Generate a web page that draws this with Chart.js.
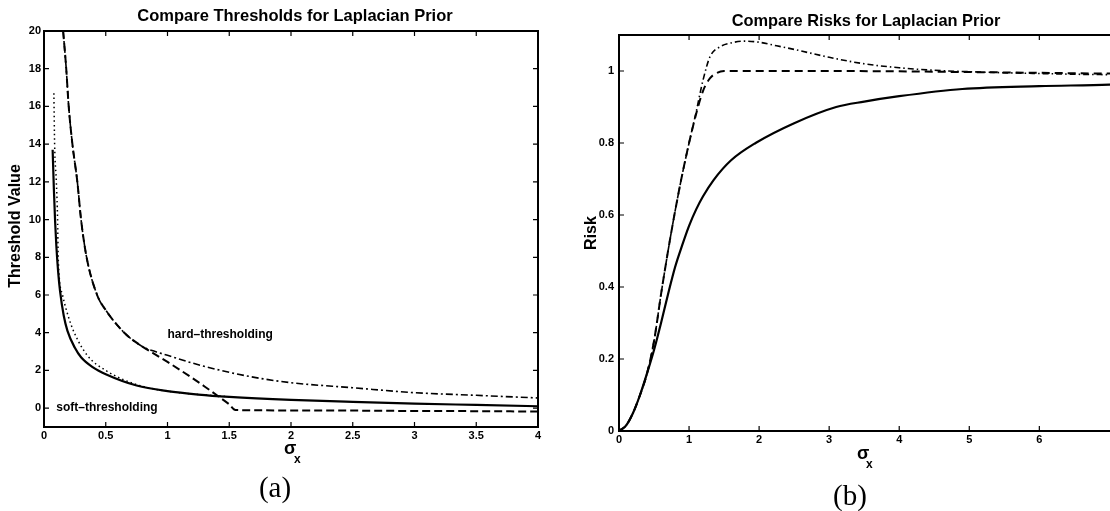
<!DOCTYPE html>
<html>
<head>
<meta charset="utf-8">
<script src="https://cdn.jsdelivr.net/npm/chart.js@4.4.1/dist/chart.umd.min.js"></script>
<style>
  html, body { margin: 0; padding: 0; background: #fff; overflow: hidden; width: 1110px; height: 511px; }
  canvas { position: absolute; top: 0; }
  #thresholdChart { left: 0; }
  #riskChart { left: 560px; }
</style>
</head>
<body>
<canvas id="thresholdChart" width="560" height="511"></canvas>
<canvas id="riskChart" width="570" height="511"></canvas>
<script>
// ---- (a) thresholds vs sigma_x ----
const thrXTicks = [0, 0.5, 1, 1.5, 2, 2.5, 3, 3.5, 4];
const thrYTicks = [0, 2, 4, 6, 8, 10, 12, 14, 16, 18, 20];

const softSigma = [0.07, 0.08, 0.09, 0.1, 0.115, 0.13, 0.16, 0.19, 0.25, 0.3, 0.4, 0.5, 0.75, 1, 1.25, 1.5, 2, 2.5, 3, 3.5, 4];
const softThr   = [13.7, 11.6, 9.9, 8.6, 7.2, 6.2, 4.9, 4.1, 3.2, 2.7, 2.15, 1.8, 1.2, 0.9, 0.72, 0.6, 0.44, 0.33, 0.24, 0.17, 0.1];

const dotSigma = [0.08, 0.086, 0.1, 0.11, 0.115, 0.15, 0.2, 0.245, 0.35, 0.5, 0.75, 1, 1.5];
const dotThr   = [16.7, 14, 12, 10, 8, 6, 4.8, 4, 2.8, 2.0, 1.25, 0.9, 0.6];

const hardSigma = [0.155, 0.18, 0.2, 0.23, 0.27, 0.3, 0.345, 0.43, 0.5, 0.65, 0.8, 0.9, 1.0, 1.1, 1.2, 1.3, 1.4, 1.5, 1.55, 2, 2.5, 3, 3.5, 4];
const hardThr   = [20, 18, 16, 14, 12, 10, 8, 6, 5.2, 4, 3.25, 2.85, 2.45, 2.03, 1.6, 1.15, 0.68, 0.2, -0.1, -0.12, -0.13, -0.15, -0.16, -0.18];

const dashDotSigma = [0.155, 0.18, 0.2, 0.23, 0.27, 0.3, 0.345, 0.43, 0.5, 0.65, 0.8, 0.9, 1.0, 1.25, 1.5, 1.75, 2, 2.5, 3, 3.5, 4];
const dashDotThr   = [20, 18, 16, 14, 12, 10, 8, 6, 5.2, 4, 3.25, 3.0, 2.8, 2.3, 1.9, 1.58, 1.35, 1.08, 0.82, 0.68, 0.54];

// ---- (b) risks vs sigma_x ----
const riskXTicks = [0, 1, 2, 3, 4, 5, 6];
const riskYTicks = [0, 0.2, 0.4, 0.6, 0.8, 1];

const riskSoftSigma = [0, 0.1, 0.2, 0.3, 0.4, 0.5, 0.6, 0.7, 0.8, 0.9, 1.0, 1.1, 1.2, 1.35, 1.6, 1.95, 2.5, 3.1, 3.5, 4, 4.9, 6, 7, 7.1];
const riskSoft      = [0, 0.015, 0.05, 0.1, 0.16, 0.225, 0.3, 0.38, 0.455, 0.515, 0.57, 0.615, 0.652, 0.697, 0.752, 0.8, 0.855, 0.9, 0.915, 0.93, 0.95, 0.958, 0.962, 0.963];

const riskHardSigma = [0, 0.1, 0.2, 0.3, 0.4, 0.5, 0.6, 0.7, 0.8, 0.9, 1.0, 1.1, 1.2, 1.3, 1.4, 1.5, 2, 3, 4, 5, 6, 7, 7.1];
const riskHard      = [0, 0.015, 0.05, 0.1, 0.16, 0.25, 0.38, 0.5, 0.61, 0.71, 0.8, 0.88, 0.945, 0.98, 0.995, 1.0, 1.0, 1.0, 0.999, 0.997, 0.995, 0.993, 0.993];

const riskDdSigma = [0, 0.1, 0.2, 0.3, 0.4, 0.5, 0.6, 0.7, 0.8, 0.9, 1.0, 1.1, 1.2, 1.3, 1.45, 1.6, 1.8, 2.0, 2.25, 2.5, 3, 3.5, 4, 4.5, 5, 6, 7, 7.1];
const riskDd      = [0, 0.015, 0.05, 0.1, 0.16, 0.25, 0.38, 0.5, 0.61, 0.71, 0.8, 0.885, 0.975, 1.04, 1.068, 1.078, 1.083, 1.08, 1.07, 1.06, 1.038, 1.02, 1.009, 1.002, 0.998, 0.993, 0.99, 0.99];

const pts = (xs, ys) => xs.map((v, i) => ({ x: v, y: ys[i] }));
const tickFont = { family: 'Liberation Sans', weight: 'bold', size: 11 };

function curve(data, dash, width) {
    return {
        data: data,
        showLine: true,
        borderColor: '#000',
        borderWidth: width,
        borderDash: dash,
        pointRadius: 0,
        fill: false,
        cubicInterpolationMode: 'monotone'
    };
}

// box, inward tick marks on all four sides, and all free text
const framePlugin = {
    id: 'frame',
    afterDatasetsDraw(chart, args, opts) {
        const { ctx, chartArea: a, scales } = chart;
        const x = scales.x, y = scales.y;
        ctx.save();
        ctx.strokeStyle = '#000';
        ctx.lineWidth = 1.2;
        ctx.beginPath();
        x.ticks.forEach(t => {
            const px = x.getPixelForValue(t.value);
            ctx.moveTo(px, a.bottom); ctx.lineTo(px, a.bottom - 5);
            ctx.moveTo(px, a.top); ctx.lineTo(px, a.top + 5);
        });
        y.ticks.forEach(t => {
            const py = y.getPixelForValue(t.value);
            ctx.moveTo(a.left, py); ctx.lineTo(a.left + 5, py);
            ctx.moveTo(a.right, py); ctx.lineTo(a.right - 5, py);
        });
        ctx.stroke();
        ctx.lineWidth = 2;
        ctx.strokeRect(a.left, a.top, a.right - a.left, a.bottom - a.top);

        ctx.fillStyle = '#000';
        (opts.texts || []).forEach(t => {
            ctx.save();
            ctx.font = t.font;
            ctx.textAlign = t.align || 'left';
            ctx.textBaseline = t.baseline || 'alphabetic';
            let px = t.x, py = t.y;
            if (t.data) {
                px = x.getPixelForValue(t.x);
                py = y.getPixelForValue(t.y);
            }
            ctx.translate(px, py);
            if (t.rotate) ctx.rotate(t.rotate);
            ctx.fillText(t.text, 0, 0);
            ctx.restore();
        });
        ctx.restore();
    }
};

function axes(xMin, xMax, xTicks, yMin, yMax, yTicks, yWidth, pad) {
    return {
        x: {
            type: 'linear', min: xMin, max: xMax,
            grid: { display: false, drawTicks: false },
            border: { display: false },
            ticks: { font: tickFont, color: '#000', padding: 2, maxRotation: 0, autoSkip: false, callback: v => String(v) },
            afterBuildTicks: s => { s.ticks = xTicks.map(v => ({ value: v })); },
            afterFit: s => { s.height = 26; }
        },
        y: {
            type: 'linear', min: yMin, max: yMax,
            grid: { display: false, drawTicks: false },
            border: { display: false },
            ticks: { font: tickFont, color: '#000', padding: pad, autoSkip: false, callback: v => String(v) },
            afterBuildTicks: s => { s.ticks = yTicks.map(v => ({ value: v })); },
            afterFit: s => { s.width = yWidth; }
        }
    };
}

new Chart(document.getElementById('thresholdChart'), {
    type: 'scatter',
    data: {
        datasets: [
            curve(pts(dotSigma, dotThr), [1.5, 3], 1.5),
            curve(pts(hardSigma, hardThr), [8, 4], 2),
            curve(pts(dashDotSigma, dashDotThr), [7, 3, 2, 3], 1.6),
            curve(pts(softSigma, softThr), [], 2.2)
        ]
    },
    options: {
        responsive: false,
        animation: false,
        layout: { padding: { top: 31, right: 22, bottom: 58, left: 0 } },
        plugins: {
            legend: { display: false },
            tooltip: { enabled: false },
            frame: {
                texts: [
                    { text: 'Compare Thresholds for Laplacian Prior', x: 295, y: 21, font: 'bold 16.5px "Liberation Sans"', align: 'center' },
                    { text: 'Threshold Value', x: 16, y: 226, font: 'bold 16px "Liberation Sans"', align: 'center', baseline: 'middle', rotate: -Math.PI / 2 },
                    { text: 'σ', x: 284, y: 454, font: 'bold 18px "Liberation Sans"' },
                    { text: 'x', x: 294, y: 463, font: 'bold 12px "Liberation Sans"' },
                    { text: '(a)', x: 275, y: 497, font: '29px "Liberation Serif"', align: 'center' },
                    { text: 'hard\u2013thresholding', x: 1.0, y: 3.9, data: true, font: 'bold 12px "Liberation Sans"', baseline: 'middle' },
                    { text: 'soft\u2013thresholding', x: 0.1, y: 0, data: true, font: 'bold 12px "Liberation Sans"', baseline: 'middle' }
                ]
            }
        },
        scales: axes(0, 4, thrXTicks, -1, 20, thrYTicks, 44, 3)
    },
    plugins: [framePlugin]
});

new Chart(document.getElementById('riskChart'), {
    type: 'scatter',
    data: {
        datasets: [
            curve(pts(riskDdSigma, riskDd), [6, 3, 1.5, 3], 1.6),
            curve(pts(riskHardSigma, riskHard), [8, 5], 2),
            curve(pts(riskSoftSigma, riskSoft), [], 2.2)
        ]
    },
    options: {
        responsive: false,
        animation: false,
        layout: { padding: { top: 35, right: 15, bottom: 54, left: 0 } },
        plugins: {
            legend: { display: false },
            tooltip: { enabled: false },
            frame: {
                texts: [
                    { text: 'Compare Risks for Laplacian Prior', x: 306, y: 26, font: 'bold 16.4px "Liberation Sans"', align: 'center' },
                    { text: 'Risk', x: 32, y: 233, font: 'bold 16px "Liberation Sans"', align: 'center', baseline: 'middle', rotate: -Math.PI / 2 },
                    { text: 'σ', x: 297, y: 459, font: 'bold 18px "Liberation Sans"' },
                    { text: 'x', x: 306, y: 468, font: 'bold 12px "Liberation Sans"' },
                    { text: '(b)', x: 290, y: 505, font: '29px "Liberation Serif"', align: 'center' }
                ]
            }
        },
        scales: axes(0, 7.08, riskXTicks, 0, 1.1, riskYTicks, 59, 5)
    },
    plugins: [framePlugin]
});
</script>
</body>
</html>
